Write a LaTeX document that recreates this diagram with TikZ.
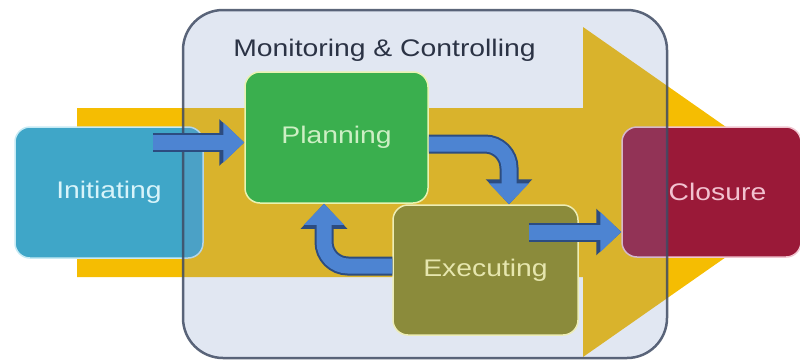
\documentclass[tikz,border=0pt]{standalone}
\usepackage{fontspec}
\setmainfont{Liberation Sans}
\usetikzlibrary{arrows.meta}
\definecolor{yellowarr}{HTML}{F5BD02}
\definecolor{initc}{HTML}{3FA6C8}
\definecolor{initb}{HTML}{C6EAF4}
\definecolor{initt}{HTML}{D8F4FA}
\definecolor{planc}{HTML}{3AAF4E}
\definecolor{planb}{HTML}{E9F3B0}
\definecolor{plant}{HTML}{CDEFC4}
\definecolor{execc}{HTML}{8B8B3B}
\definecolor{execb}{HTML}{EDEDB5}
\definecolor{exect}{HTML}{E6E6AE}
\definecolor{closc}{HTML}{9A1938}
\definecolor{closb}{HTML}{F0C4CF}
\definecolor{clost}{HTML}{F2C2D0}
\definecolor{monf}{HTML}{7890C3}
\definecolor{monb}{HTML}{3F4B63}
\definecolor{titlec}{HTML}{2B3345}
\definecolor{arrblue}{HTML}{4D84D2}
\definecolor{arrdark}{HTML}{2C4C80}
\newcommand\lbl[1]{\scalebox{1.18}[1]{#1}}
\begin{document}
\begin{tikzpicture}[x=1pt,y=-1pt,
  box/.style={rounded corners=15pt, line width=1.5pt, inner sep=0pt,
    font=\fontsize{24}{28}\selectfont},
  flow/.style={line width=15pt, draw=arrblue, -{Triangle[length=21pt,width=39pt]},
    preaction={draw=arrdark, line width=19pt, -{Triangle[length=25pt,width=45pt]}}}]
\useasboundingbox (0,0) rectangle (800,362);
\clip (0,0) rectangle (800,362);
% big yellow arrow
\fill[yellowarr] (77,108) -- (583,108) -- (583,27) -- (819,192) -- (583,357) -- (583,277) -- (77,277) -- cycle;
% outer phases
\node[box, fill=initc, draw=initb, text=initt, minimum width=188pt, minimum height=131pt] (init) at (109,192.5) {\lbl{Initiating}};
\node[box, fill=closc, draw=closb, text=clost, minimum width=179pt, minimum height=130pt] (clos) at (711.5,192) {\hspace*{12pt}\lbl{Closure}};
% monitoring container
\node[draw=monb, draw opacity=0.85, line width=2.5pt, fill=monf, fill opacity=0.22, rounded corners=40pt,
  minimum width=484pt, minimum height=348pt, inner sep=0pt] (mon) at (425,184) {};
\node[text=titlec, font=\fontsize{24}{28}\selectfont, inner sep=0pt] (title) at (384.5,50) {\lbl{Monitoring \& Controlling}};
% inner phases
\node[box, fill=planc, draw=planb, text=plant, minimum width=183pt, minimum height=131pt] (plan) at (336.5,137.5) {\lbl{Planning}};
\node[box, fill=execc, draw=execb, text=exect, minimum width=185pt, minimum height=130pt] (exec) at (485.5,270) {\lbl{Executing}};
% connectors
\coordinate (a1) at ([xshift=-51pt,yshift=50pt]init.east);
\draw[flow] (a1) -- (a1 -| plan.west);
\coordinate (a2) at ([yshift=-6.5pt]plan.east);
\coordinate (a2e) at ([xshift=23.5pt]exec.north);
\draw[flow, rounded corners=24pt] (a2) -| (a2e);
\coordinate (a3) at ([xshift=-50pt,yshift=38pt]exec.east);
\draw[flow] (a3) -- (a3 -| clos.west);
\coordinate (a4) at ([yshift=4pt]exec.west);
\coordinate (a4e) at ([xshift=-12.5pt]plan.south);
\draw[flow, rounded corners=24pt] (a4) -| (a4e);
\end{tikzpicture}
\end{document}
